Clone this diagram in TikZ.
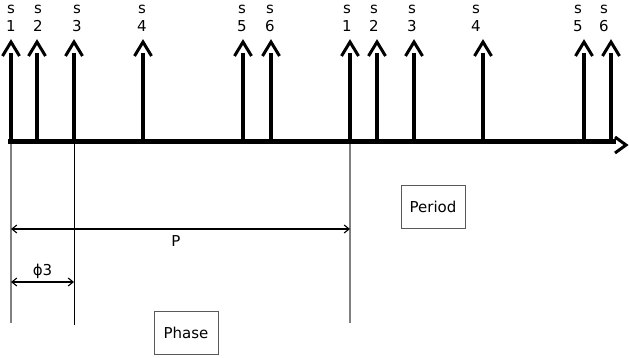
\documentclass[tikz,border=0pt]{standalone}
\usepackage{fontspec}
\setmainfont{DejaVu Sans}
\usetikzlibrary{arrows.meta}
\begin{document}
\begin{tikzpicture}[x=1pt,y=-1pt,
  spike/.style={line width=4.4pt},
  barb/.style={line width=3pt, line cap=butt, line join=miter},
  lbl/.style={font=\fontsize{15}{18}\selectfont, inner sep=0pt, anchor=base},
  guide/.style={line width=1.3pt, draw=gray},
  tick/.style={{Straight Barb[length=5pt,width=8pt,line width=1.1pt]}-{Straight Barb[length=5pt,width=8pt,line width=1.1pt]}, line width=1.6pt},
  box/.style={draw=gray!70!black, line width=1pt, minimum width=64pt, minimum height=43pt,
              inner sep=0pt, font=\fontsize{15}{18}\selectfont}]
\useasboundingbox (0,0) rectangle (629,358);

% time axis with open chevron head
\coordinate (axL) at (8,141.5);
\coordinate (axR) at (616,141.5);
\draw[spike] (axL) -- (axR);
\draw[barb] (615,137) -- (626,145) -- (615,153);

% impulses: spike x / label x / index
\foreach \x/\lx/\k [count=\i] in {11/11/1, 37/38/2, 74/77/3, 143/142/4, 243/242/5, 271/270/6,
                                 350/347/1, 377/374/2, 414/412/3, 483/476/4, 584/578/5, 611/604/6} {
  \coordinate (b\i) at (\x,143);
  \coordinate (t\i) at (\x,53);
  \draw[spike] (b\i) -- (t\i);
  \draw[barb] (\x-8.5,56) -- (\x,42) -- (\x+8.5,56);
  \node[lbl] (s\i) at (\lx,13.5) {s};
  \node[lbl] (n\i) at (\lx,32) {\k};
}

% reference lines below the axis
\coordinate (g0) at (11,144);  \coordinate (h0) at (11,323);
\coordinate (g3) at (74,144);  \coordinate (h3) at (74,325);
\coordinate (g7) at (350,144); \coordinate (h7) at (350,323);
\draw[guide] (g0) -- (h0);
\draw[line width=1pt] (g3) -- (h3);
\draw[guide] (g7) -- (h7);

% period and phase dimensions
\coordinate (pL) at (11,229);  \coordinate (pR) at (350,229);
\coordinate (fL) at (11,282);  \coordinate (fR) at (74,282);
\draw[tick] (pL) -- (pR);
\draw[tick] (fL) -- (fR);
\node[lbl] (plbl) at (176,247) {P};
\node[lbl] (flbl) at (42.5,275) {ϕ3};

% captions
\node[box] (period) at (433,207) {Period};
\node[box] (phase) at (186,333) {Phase};
\end{tikzpicture}
\end{document}
